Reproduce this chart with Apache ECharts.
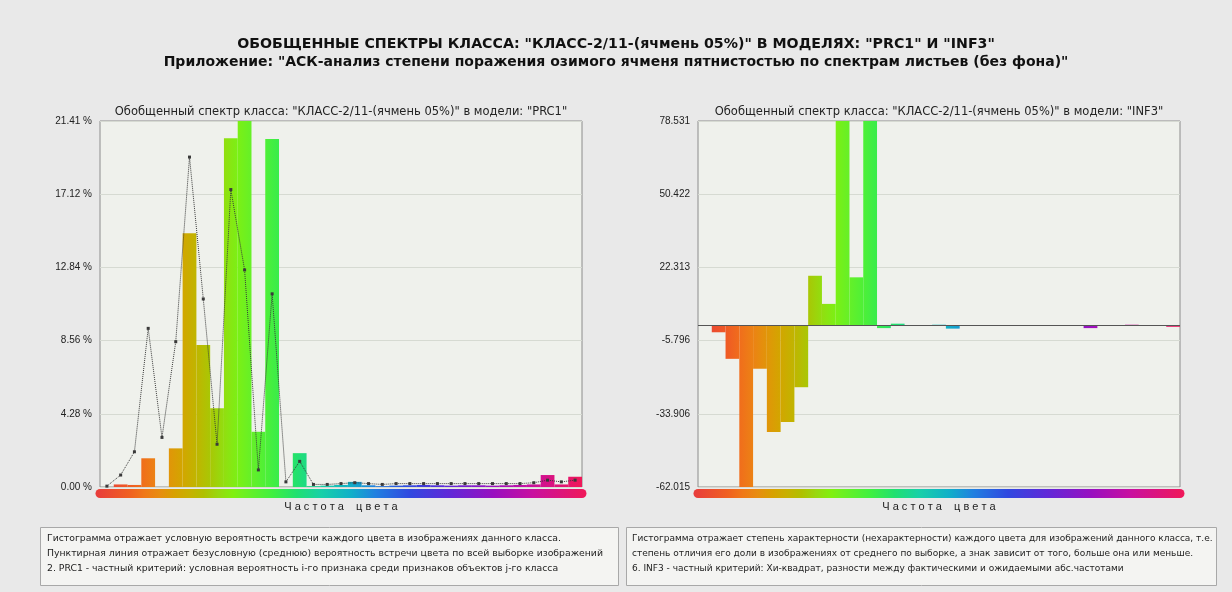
<!DOCTYPE html>
<html>
<head>
<meta charset="utf-8">
<script src="https://cdn.jsdelivr.net/npm/echarts@6/dist/echarts.min.js"></script>
<style>
  html, body { margin: 0; padding: 0; background: #e9e9e9; }
  #chart { width: 1232px; height: 592px; }
</style>
</head>
<body>
<div id="chart"></div>
<script>
// Colour bins along the hue spectrum (35 bins)
const colorBins = ['1','2','3','4','5','6','7','8','9','10','11','12','13','14','15','16','17','18',
  '19','20','21','22','23','24','25','26','27','28','29','30','31','32','33','34','35'];

// PRC1: conditional probability of each colour in the class images, %
const prc1Values = [0, 0.15, 0.12, 1.68, 0, 2.26, 14.84, 8.31, 4.6, 20.4, 21.41, 3.23, 20.35, 0, 1.98,
  0.05, 0.08, 0.12, 0.3, 0.1, 0.05, 0.08, 0.1, 0.12, 0.1, 0.08, 0.1, 0.1, 0.08, 0.1, 0.12, 0.15, 0.7, 0.15, 0.6];

// Unconditional (mean) probability of each colour over the whole sample, %
const prc1Mean = [0.05, 0.7, 2.06, 9.28, 2.9, 8.5, 19.3, 11.0, 2.5, 17.4, 12.7, 1.0, 11.3, 0.3, 1.5,
  0.15, 0.15, 0.2, 0.25, 0.2, 0.15, 0.2, 0.2, 0.2, 0.2, 0.2, 0.2, 0.2, 0.2, 0.2, 0.2, 0.25, 0.4, 0.3, 0.4];

// INF3: chi-square difference between actual and expected frequencies
const inf3Values = [0, -2.6, -12.8, -62.015, -16.6, -40.9, -37.1, -23.7, 19.1, 8.3, 78.531, 18.5, 78.531,
  -1.0, 0.7, 0, 0, 0.3, -1.2, 0, 0, 0, 0, 0, 0, 0, 0, 0, -1.0, 0, 0, 0.3, 0, 0, -0.5];

const prc1TickLabels = ['0.00 %', '4.28 %', '8.56 %', '12.84 %', '17.12 %', '21.41 %'];
const inf3TickLabels = ['-62.015', '-33.906', '-5.796', '22.313', '50.422', '78.531'];

// Spectrum palette used for the colour strip and the bars
const spectrum = [
  [0.00, '#e83c3c'], [0.07, '#f06020'], [0.10, '#f07818'], [0.13, '#e88c10'],
  [0.16, '#d8a000'], [0.19, '#c8b000'], [0.22, '#b0c000'], [0.25, '#98d810'],
  [0.28, '#80f010'], [0.30, '#70f020'], [0.36, '#40f040'], [0.41, '#20e070'],
  [0.46, '#18d0a8'], [0.52, '#10b0c8'], [0.57, '#2080e0'], [0.64, '#3048e0'],
  [0.72, '#6028d8'], [0.81, '#9810c0'], [0.89, '#c810a0'], [1.00, '#f01858']
];

function hexToRgb(h) {
  return [parseInt(h.slice(1, 3), 16), parseInt(h.slice(3, 5), 16), parseInt(h.slice(5, 7), 16)];
}
function colorAt(f) {
  for (let i = 1; i < spectrum.length; i++) {
    if (f <= spectrum[i][0]) {
      const [f0, c0] = spectrum[i - 1], [f1, c1] = spectrum[i];
      const t = (f - f0) / (f1 - f0);
      const a = hexToRgb(c0), b = hexToRgb(c1);
      return 'rgb(' + a.map((v, k) => Math.round(v + (b[k] - v) * t)).join(',') + ')';
    }
  }
  return spectrum[spectrum.length - 1][1];
}
const n = colorBins.length;
function barColor(params) {
  const i = params.dataIndex;
  return new echarts.graphic.LinearGradient(0, 0, 1, 0, [
    { offset: 0, color: colorAt(i / n) },
    { offset: 1, color: colorAt((i + 1) / n) }
  ]);
}
function stripGradient() {
  return new echarts.graphic.LinearGradient(0, 0, 1, 0,
    spectrum.map(s => ({ offset: s[0], color: s[1] })));
}

const FONT = "'Liberation Sans', Arial, sans-serif";
const WIDE = "'DejaVu Sans', Verdana, sans-serif";
const axisName = 'Ч а с т о т а    ц в е т а';

function xAxisFor(gridIndex) {
  return {
    type: 'category', gridIndex, data: colorBins, boundaryGap: true,
    offset: 6,
    axisLine: { show: true, onZero: false, lineStyle: { width: 9, color: stripGradient() } },
    axisTick: { show: false }, axisLabel: { show: false }, splitLine: { show: false },
    name: axisName, nameLocation: 'middle', nameGap: 8,
    nameTextStyle: { fontFamily: FONT, fontSize: 11, color: '#222', verticalAlign: 'top' }
  };
}
function yAxisFor(gridIndex, min, max, interval, labels) {
  return {
    type: 'value', gridIndex, min, max, interval,
    axisLine: { show: false }, axisTick: { show: false },
    axisLabel: { fontFamily: FONT, fontSize: 10, color: '#222', margin: 8,
      formatter: (v, idx) => labels[idx] },
    splitLine: { lineStyle: { color: '#d6dad2', width: 1 } }
  };
}

const gridStyle = { show: true, backgroundColor: '#eff1ec', borderColor: '#8c8c8c', borderWidth: 1 };

const option = {
  backgroundColor: '#e9e9e9',
  animation: false,
  title: [
    { text: 'ОБОБЩЕННЫЕ СПЕКТРЫ КЛАССА: "КЛАСС-2/11-(ячмень 05%)" В МОДЕЛЯХ: "PRC1" И "INF3"',
      left: 'center', top: 37, padding: 0,
      textStyle: { fontFamily: WIDE, fontSize: 14.2, fontWeight: 'bold', color: '#111' } },
    { text: 'Приложение: "АСК-анализ степени поражения озимого ячменя пятнистостью по спектрам листьев (без фона)"',
      left: 'center', top: 55, padding: 0,
      textStyle: { fontFamily: WIDE, fontSize: 14.0, fontWeight: 'bold', color: '#111' } },
    { text: 'Обобщенный спектр класса: "КЛАСС-2/11-(ячмень 05%)" в модели: "PRC1"',
      left: 341, textAlign: 'center', top: 106, padding: 0,
      textStyle: { fontFamily: WIDE, fontSize: 11.5, fontWeight: 'normal', color: '#222' } },
    { text: 'Обобщенный спектр класса: "КЛАСС-2/11-(ячмень 05%)" в модели: "INF3"',
      left: 939, textAlign: 'center', top: 106, padding: 0,
      textStyle: { fontFamily: WIDE, fontSize: 11.5, fontWeight: 'normal', color: '#222' } }
  ],
  grid: [
    Object.assign({ left: 100, top: 121, width: 482, height: 366 }, gridStyle),
    Object.assign({ left: 698, top: 121, width: 482, height: 366 }, gridStyle)
  ],
  xAxis: [xAxisFor(0), xAxisFor(1)],
  yAxis: [
    yAxisFor(0, 0, 21.41, 4.282, prc1TickLabels),
    yAxisFor(1, -62.015, 78.531, 28.1092, inf3TickLabels)
  ],
  series: [
    { type: 'bar', xAxisIndex: 0, yAxisIndex: 0, data: prc1Values,
      barCategoryGap: '0%', itemStyle: { color: barColor }, z: 2 },
    { type: 'line', xAxisIndex: 0, yAxisIndex: 0, data: prc1Mean,
      symbol: 'rect', symbolSize: 3, showSymbol: true,
      lineStyle: { type: 'dotted', color: '#3a3a3a', width: 1 },
      itemStyle: { color: '#3a3a3a' }, z: 3 },
    { type: 'bar', xAxisIndex: 1, yAxisIndex: 1, data: inf3Values,
      barCategoryGap: '0%', itemStyle: { color: barColor }, z: 2,
      markLine: { silent: true, symbol: 'none', label: { show: false },
        lineStyle: { color: '#555', type: 'solid', width: 1 },
        data: [{ yAxis: 0 }] } }
  ],
  graphic: [
    { type: 'rect', left: 40, top: 527, shape: { width: 578, height: 58 },
      style: { fill: '#f4f4f2', stroke: '#a8a8a8', lineWidth: 1 } },
    { type: 'text', left: 47, top: 531,
      style: { fontFamily: WIDE, fontSize: 9.3, fill: '#222', lineHeight: 15,
        text: 'Гистограмма отражает условную вероятность встречи каждого цвета в изображениях данного класса.\n' +
              'Пунктирная линия отражает безусловную (среднюю) вероятность встречи цвета по всей выборке изображений\n' +
              '2. PRC1 - частный критерий: условная вероятность i-го признака среди признаков объектов j-го класса' } },
    { type: 'rect', left: 626, top: 527, shape: { width: 590, height: 58 },
      style: { fill: '#f4f4f2', stroke: '#a8a8a8', lineWidth: 1 } },
    { type: 'text', left: 632, top: 531,
      style: { fontFamily: WIDE, fontSize: 9.0, fill: '#222', lineHeight: 15,
        text: 'Гистограмма отражает степень характерности (нехарактерности) каждого цвета для изображений данного класса, т.е.\n' +
              'степень отличия его доли в изображениях от среднего по выборке, а знак зависит от того, больше она или меньше.\n' +
              '6. INF3 - частный критерий: Хи-квадрат, разности между фактическими и ожидаемыми абс.частотами' } }
  ]
};

const chart = echarts.init(document.getElementById('chart'), null, { renderer: 'canvas' });
chart.setOption(option);
</script>
</body>
</html>
